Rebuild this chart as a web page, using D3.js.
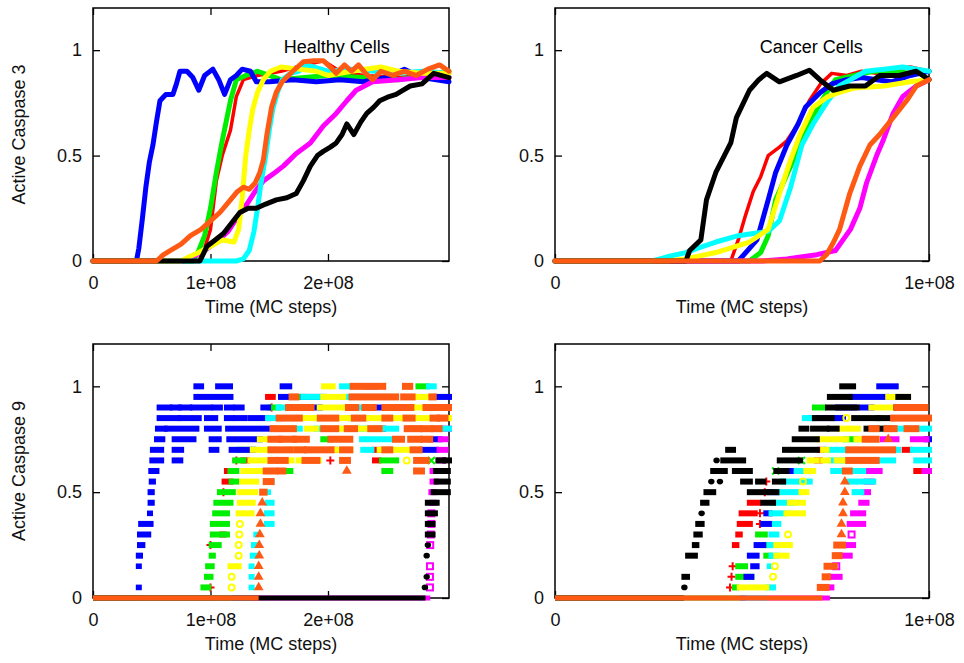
<!DOCTYPE html>
<html>
<head>
<meta charset="utf-8">
<script src="https://cdn.jsdelivr.net/npm/d3@7/dist/d3.min.js"></script>
<style>
  body { margin: 0; background: #fff; }
  svg { display: block; font-family: "Liberation Sans", Arial, Helvetica, sans-serif; }
</style>
</head>
<body>
<svg id="chart" width="964" height="663"></svg>
<script>
// Eight simulated cells per panel, drawn in this order (later ones on top).
const seriesColors  = ["#ff0000", "#00ee00", "#0000ff", "#ff00ff", "#00ffff", "#ffff00", "#000000", "#ff5a14"];
const seriesMarkers = ["plus", "cross", "star", "openSquare", "square", "openCircle", "dot", "triangle"];

// Axis ticks (time in units of 1e8 MC steps)
const yTickValues = [0, 0.5, 1];
const yTickLabels = ["0", "0.5", "1"];
const xTicksHealthy = [0, 1, 2];
const xTicksCancer = [0, 1];
const xTickLabelsHealthy = ["0", "1e+08", "2e+08"];
const xTickLabelsCancer = ["0", "1e+08"];
const xMaxHealthy = 3.03;
const xMaxCancer = 1.0;
const yMax = 1.2;

// Active caspase 3, healthy cells: [time, level]
const healthyC3 = [
  [[0,0],[0.90,0],[0.95,0.06],[1.0,0.15],[1.05,0.38],[1.1,0.5],[1.17,0.62],[1.22,0.78],[1.28,0.86],[1.4,0.88],[1.6,0.9],[1.8,0.93],[1.96,0.95],[2.1,0.9],[2.3,0.88],[2.6,0.87],[2.8,0.88],[3.03,0.87]],
  [[0,0],[0.85,0],[0.9,0.05],[0.95,0.12],[1.0,0.25],[1.05,0.42],[1.1,0.57],[1.17,0.76],[1.22,0.86],[1.3,0.88],[1.4,0.9],[1.5,0.88],[1.6,0.86],[1.8,0.87],[2.0,0.88],[2.3,0.87],[2.6,0.86],[2.9,0.89],[3.03,0.9]],
  [[0,0],[0.37,0],[0.39,0.06],[0.42,0.2],[0.45,0.35],[0.48,0.47],[0.51,0.55],[0.54,0.66],[0.57,0.76],[0.62,0.79],[0.68,0.79],[0.71,0.84],[0.74,0.9],[0.8,0.9],[0.85,0.87],[0.9,0.81],[0.95,0.88],[1.02,0.91],[1.07,0.86],[1.12,0.79],[1.17,0.86],[1.22,0.88],[1.27,0.91],[1.34,0.9],[1.39,0.85],[1.5,0.85],[1.7,0.86],[1.9,0.85],[2.1,0.86],[2.3,0.85],[2.5,0.87],[2.65,0.91],[2.8,0.87],[3.03,0.85]],
  [[0,0],[0.77,0],[0.85,0.02],[0.95,0.05],[1.05,0.09],[1.15,0.14],[1.22,0.2],[1.31,0.27],[1.38,0.33],[1.45,0.38],[1.55,0.42],[1.62,0.45],[1.73,0.51],[1.85,0.56],[1.96,0.64],[2.07,0.7],[2.16,0.76],[2.24,0.81],[2.38,0.85],[2.6,0.86],[2.8,0.87],[3.03,0.87]],
  [[0,0],[1.22,0],[1.28,0.01],[1.33,0.05],[1.37,0.14],[1.4,0.25],[1.43,0.37],[1.47,0.5],[1.5,0.62],[1.53,0.72],[1.57,0.8],[1.61,0.86],[1.68,0.89],[1.75,0.9],[1.82,0.93],[2.0,0.9],[2.2,0.91],[2.4,0.9],[2.6,0.89],[2.8,0.9],[3.03,0.89]],
  [[0,0],[0.75,0],[0.82,0.02],[0.9,0.04],[1.0,0.07],[1.1,0.1],[1.2,0.09],[1.24,0.15],[1.27,0.3],[1.3,0.5],[1.33,0.62],[1.36,0.72],[1.4,0.8],[1.45,0.86],[1.51,0.9],[1.6,0.92],[1.75,0.91],[1.9,0.9],[2.0,0.88],[2.2,0.9],[2.45,0.92],[2.6,0.9],[2.8,0.89],[3.03,0.89]],
  [[0,0],[0.91,0],[0.97,0.07],[1.04,0.1],[1.11,0.13],[1.18,0.18],[1.25,0.23],[1.32,0.25],[1.39,0.25],[1.47,0.27],[1.56,0.29],[1.65,0.3],[1.73,0.32],[1.79,0.38],[1.85,0.45],[1.91,0.5],[1.96,0.52],[2.02,0.54],[2.07,0.56],[2.12,0.6],[2.16,0.65],[2.22,0.6],[2.28,0.66],[2.33,0.7],[2.39,0.73],[2.44,0.76],[2.52,0.78],[2.58,0.79],[2.64,0.81],[2.7,0.83],[2.8,0.84],[2.9,0.89],[3.03,0.87]],
  [[0,0],[0.54,0],[0.6,0.03],[0.66,0.05],[0.75,0.08],[0.83,0.12],[0.92,0.15],[1.0,0.19],[1.08,0.23],[1.17,0.29],[1.23,0.33],[1.28,0.35],[1.33,0.34],[1.38,0.37],[1.42,0.42],[1.45,0.48],[1.48,0.6],[1.52,0.73],[1.56,0.8],[1.61,0.85],[1.7,0.9],[1.79,0.945],[1.88,0.95],[1.96,0.95],[2.02,0.92],[2.07,0.89],[2.14,0.93],[2.2,0.9],[2.26,0.93],[2.32,0.89],[2.38,0.86],[2.45,0.9],[2.55,0.88],[2.65,0.9],[2.75,0.88],[2.85,0.91],[2.95,0.93],[3.03,0.9]]
];

// Active caspase 3, cancer cells: [time, level]
const cancerC3 = [
  [[0,0],[0.47,0],[0.49,0.1],[0.51,0.22],[0.53,0.33],[0.55,0.4],[0.57,0.5],[0.6,0.54],[0.62,0.57],[0.65,0.65],[0.68,0.76],[0.71,0.84],[0.74,0.89],[0.78,0.88],[0.82,0.9],[0.86,0.89],[0.9,0.91],[0.95,0.92],[1.0,0.9]],
  [[0,0],[0.52,0],[0.55,0.04],[0.57,0.12],[0.59,0.29],[0.63,0.45],[0.66,0.57],[0.7,0.72],[0.73,0.81],[0.75,0.86],[0.8,0.88],[0.85,0.9],[0.9,0.9],[0.95,0.89],[1.0,0.9]],
  [[0,0],[0.49,0],[0.51,0.04],[0.54,0.1],[0.57,0.29],[0.59,0.42],[0.62,0.55],[0.65,0.65],[0.67,0.73],[0.71,0.8],[0.74,0.84],[0.78,0.86],[0.82,0.87],[0.86,0.86],[0.9,0.85],[0.95,0.88],[1.0,0.9]],
  [[0,0],[0.55,0],[0.62,0.01],[0.7,0.03],[0.75,0.05],[0.79,0.15],[0.815,0.25],[0.833,0.37],[0.86,0.5],[0.877,0.57],[0.904,0.7],[0.93,0.78],[0.966,0.83],[1.0,0.86]],
  [[0,0],[0.26,0],[0.3,0.02],[0.35,0.04],[0.38,0.06],[0.43,0.09],[0.49,0.12],[0.53,0.13],[0.57,0.14],[0.6,0.19],[0.63,0.35],[0.66,0.55],[0.69,0.65],[0.73,0.76],[0.76,0.83],[0.79,0.86],[0.83,0.9],[0.88,0.91],[0.93,0.92],[1.0,0.9]],
  [[0,0],[0.3,0],[0.35,0.01],[0.43,0.04],[0.52,0.09],[0.57,0.15],[0.6,0.32],[0.63,0.48],[0.655,0.6],[0.69,0.73],[0.73,0.78],[0.76,0.8],[0.8,0.82],[0.88,0.83],[0.95,0.85],[1.0,0.86]],
  [[0,0],[0.35,0],[0.36,0.05],[0.39,0.1],[0.405,0.29],[0.43,0.42],[0.47,0.56],[0.485,0.68],[0.52,0.81],[0.545,0.86],[0.566,0.89],[0.6,0.85],[0.646,0.88],[0.68,0.905],[0.708,0.86],[0.744,0.81],[0.788,0.83],[0.83,0.83],[0.868,0.88],[0.92,0.88],[0.966,0.9],[1.0,0.86]],
  [[0,0],[0.708,0],[0.726,0.03],[0.745,0.09],[0.761,0.15],[0.788,0.32],[0.815,0.45],[0.842,0.55],[0.868,0.6],[0.904,0.68],[0.94,0.76],[0.966,0.83],[1.0,0.86]]
];

// Active caspase 9, healthy cells: runs at one level [timeStart, timeEnd, level]
const healthyC9 = [
  // red
  [[0,1.0,0],[1.0,1.0,0.05],[1.0,1.0,0.25],[1.1,1.11,0.3],[1.11,1.11,0.5],[1.12,1.17,0.55],[1.14,1.18,0.6],[1.22,1.22,0.65],[1.28,1.31,0.65],[2.02,2.02,0.65],[2.4,2.43,0.65],[2.03,2.06,0.7],[2.4,2.44,0.7],[1.49,1.53,0.95],[1.52,1.52,0.9],[2.70,2.77,0.8]],
  // green
  [[0,0.94,0],[0.94,0.98,0.05],[0.97,1.0,0.1],[0.98,1.01,0.15],[1.01,1.02,0.2],[1.01,1.07,0.25],[1.02,1.14,0.3],[1.02,1.14,0.35],[1.04,1.14,0.4],[1.05,1.17,0.45],[1.08,1.19,0.5],[1.18,1.22,0.55],[1.17,1.22,0.6],[1.65,1.68,0.6],[2.48,2.53,0.6],[1.21,1.28,0.65],[2.46,2.58,0.65],[2.88,2.88,0.65],[1.24,1.36,0.7],[1.96,2.02,0.75],[1.51,1.58,0.9],[1.73,1.79,0.95],[2.77,2.84,1.0]],
  // blue
  [[0,0.39,0],[0.39,0.39,0.05],[0.39,0.39,0.15],[0.39,0.40,0.2],[0.40,0.42,0.25],[0.40,0.47,0.3],[0.41,0.49,0.35],[0.485,0.485,0.4],[0.49,0.50,0.45],[0.49,0.50,0.5],[0.50,0.51,0.55],[0.496,0.54,0.6],[0.505,0.58,0.65],[0.695,0.743,0.65],[0.51,0.58,0.7],[0.695,0.75,0.7],[1.01,1.05,0.7],[1.18,1.36,0.7],[2.81,2.92,0.7],[0.545,0.59,0.75],[0.695,0.855,0.75],[1.01,1.07,0.75],[1.16,1.42,0.75],[2.87,2.95,0.75],[0.553,0.61,0.8],[0.63,0.88,0.8],[0.97,1.07,0.8],[1.15,1.53,0.8],[2.44,2.47,0.8],[0.567,0.723,0.85],[0.743,0.9,0.85],[0.97,1.04,0.85],[1.14,1.18,0.85],[1.22,1.29,0.85],[1.34,1.49,0.85],[2.19,2.33,0.85],[0.567,0.652,0.9],[0.68,0.73,0.9],[0.75,0.82,0.9],[0.85,0.995,0.9],[1.035,1.08,0.9],[1.14,1.18,0.9],[1.22,1.265,0.9],[1.45,1.49,0.9],[1.86,1.93,0.9],[2.39,2.58,0.9],[0.88,0.995,0.95],[1.04,1.17,0.95],[1.6,1.65,0.95],[1.79,1.96,0.95],[2.92,3.03,0.95],[0.88,0.92,1.0],[1.065,1.166,1.0],[1.614,1.67,1.0],[2.33,2.4,1.0]],
  // magenta
  [[0,2.87,0],[2.868,2.868,0.05],[2.868,2.868,0.1],[2.868,2.868,0.15],[2.87,2.87,0.25],[2.875,2.875,0.3],[2.88,2.88,0.35],[2.88,2.88,0.4],[2.89,2.90,0.45],[2.88,2.90,0.5],[2.89,2.92,0.55],[2.89,3.0,0.6],[2.95,2.98,0.65],[2.95,3.0,0.7],[2.96,3.0,0.75],[2.97,3.03,0.8]],
  // cyan
  [[0,1.35,0],[1.35,1.35,0.05],[1.35,1.35,0.1],[1.35,1.35,0.15],[1.36,1.38,0.2],[1.37,1.38,0.25],[1.39,1.39,0.3],[1.48,1.52,0.35],[1.48,1.52,0.4],[1.49,1.52,0.45],[1.49,1.49,0.5],[1.50,1.52,0.55],[1.51,1.51,0.6],[2.3,2.37,0.7],[2.29,2.53,0.75],[1.71,1.76,0.8],[1.9,1.96,0.8],[2.24,2.44,0.8],[2.47,2.58,0.8],[2.98,3.03,0.8],[1.49,1.56,0.85],[1.9,1.96,0.85],[2.64,2.75,0.85],[1.58,1.68,0.9],[1.76,1.8,0.9],[2.19,2.33,0.9],[1.79,1.96,0.95],[2.13,2.24,0.95],[2.28,2.58,0.95],[2.78,2.81,0.95],[2.12,2.18,1.0],[2.86,2.9,1.0]],
  // yellow
  [[0,1.18,0],[1.18,1.18,0.05],[1.18,1.18,0.1],[1.17,1.24,0.15],[1.24,1.24,0.2],[1.24,1.24,0.25],[1.245,1.245,0.3],[1.25,1.25,0.35],[1.24,1.35,0.4],[1.25,1.36,0.45],[1.25,1.38,0.5],[1.27,1.39,0.55],[1.28,1.47,0.6],[1.34,1.46,0.65],[1.65,1.69,0.65],[1.75,1.92,0.65],[2.67,2.67,0.65],[1.36,1.53,0.7],[1.68,1.82,0.7],[2.06,2.19,0.7],[2.44,2.72,0.7],[1.42,1.51,0.75],[1.53,1.71,0.8],[1.82,1.9,0.8],[2.07,2.44,0.8],[1.76,1.9,0.85],[2.07,2.19,0.85],[2.33,2.64,0.85],[2.75,3.03,0.85],[1.93,2.19,0.9],[2.58,2.72,0.9],[2.75,2.84,0.9],[1.96,2.13,0.95],[2.75,2.78,0.95],[2.81,2.88,0.95],[1.966,2.04,1.0]],
  // black
  [[0,2.83,0],[2.825,2.825,0.05],[2.84,2.84,0.1],[2.84,2.84,0.2],[2.85,2.85,0.25],[2.85,2.89,0.3],[2.85,2.89,0.35],[2.85,2.91,0.4],[2.85,2.925,0.45],[2.90,3.02,0.5],[2.925,3.02,0.55],[2.92,3.02,0.6],[2.94,2.98,0.65],[3.0,3.03,0.65]],
  // orange
  [[0,1.41,0],[1.41,1.41,0.05],[1.41,1.41,0.1],[1.41,1.41,0.15],[1.415,1.415,0.2],[1.415,1.415,0.25],[1.42,1.42,0.3],[1.425,1.425,0.35],[1.425,1.425,0.4],[1.44,1.44,0.45],[1.44,1.46,0.5],[1.47,1.52,0.55],[1.47,1.55,0.6],[1.59,1.62,0.6],[2.16,2.16,0.6],[2.75,2.8,0.6],[1.51,1.55,0.65],[1.59,1.64,0.65],[1.8,1.91,0.65],[2.12,2.17,0.65],[2.75,2.84,0.65],[1.51,1.68,0.7],[1.73,1.79,0.7],[1.82,2.03,0.7],[2.12,2.19,0.7],[2.48,2.53,0.7],[2.72,2.78,0.7],[1.51,1.59,0.75],[1.6,1.71,0.75],[1.72,1.82,0.75],[2.02,2.19,0.75],[2.57,2.63,0.75],[2.7,2.78,0.75],[2.81,2.87,0.75],[1.53,1.71,0.8],[1.96,2.07,0.8],[2.16,2.23,0.8],[2.36,2.44,0.8],[2.67,2.78,0.8],[2.81,2.87,0.8],[2.9,2.95,0.8],[1.58,1.76,0.85],[1.93,2.07,0.85],[2.22,2.3,0.85],[2.48,2.53,0.85],[2.66,2.72,0.85],[2.89,2.93,0.85],[2.95,3.0,0.85],[1.66,1.76,0.9],[1.8,1.86,0.9],[2.17,2.24,0.9],[2.31,2.39,0.9],[2.48,2.58,0.9],[2.6,2.71,0.9],[2.83,2.9,0.9],[2.92,3.03,0.9],[1.69,1.73,0.95],[2.2,2.58,0.95],[2.64,2.72,0.95],[2.88,2.9,0.95],[2.21,2.47,1.0],[2.655,2.7,1.0]]
];

// Active caspase 9, cancer cells: runs at one level [timeStart, timeEnd, level]
const cancerC9 = [
  // red
  [[0,0.468,0],[0.468,0.468,0.05],[0.472,0.472,0.1],[0.475,0.475,0.15],[0.481,0.485,0.25],[0.49,0.494,0.3],[0.494,0.521,0.35],[0.548,0.548,0.35],[0.499,0.534,0.4],[0.548,0.548,0.4],[0.521,0.543,0.45],[0.561,0.561,0.5],[0.565,0.565,0.55],[0.7,0.708,0.65],[0.708,0.717,0.7],[0.935,0.948,0.7],[0.966,0.975,0.6]],
  // green
  [[0,0.48,0],[0.481,0.485,0.05],[0.49,0.525,0.1],[0.49,0.508,0.15],[0.565,0.574,0.2],[0.561,0.57,0.25],[0.543,0.561,0.3],[0.59,0.59,0.6],[0.659,0.659,0.65],[0.779,0.806,0.75],[0.744,0.753,0.85],[0.86,0.868,0.85],[0.695,0.717,0.9]],
  // blue
  [[0,0.51,0],[0.512,0.525,0.1],[0.53,0.539,0.15],[0.521,0.539,0.2],[0.539,0.557,0.25],[0.557,0.574,0.35],[0.565,0.574,0.4],[0.574,0.592,0.5],[0.619,0.646,0.6],[0.993,1.0,0.75],[0.686,0.77,0.85],[0.757,0.8,0.9],[0.82,0.846,0.9],[0.793,0.886,0.95],[0.867,0.911,1.0]],
  // magenta
  [[0,0.735,0],[0.726,0.739,0.05],[0.735,0.761,0.1],[0.752,0.752,0.15],[0.761,0.788,0.2],[0.779,0.797,0.25],[0.793,0.793,0.3],[0.788,0.824,0.35],[0.797,0.824,0.4],[0.819,0.833,0.45],[0.828,0.837,0.5],[0.833,0.846,0.55],[0.828,0.868,0.6],[0.988,1.0,0.6],[0.877,0.913,0.75],[0.957,0.993,0.75]],
  // cyan
  [[0,0.57,0],[0.57,0.583,0.05],[0.574,0.574,0.15],[0.579,0.592,0.2],[0.574,0.592,0.25],[0.579,0.592,0.3],[0.588,0.597,0.35],[0.579,0.61,0.4],[0.583,0.635,0.45],[0.592,0.65,0.5],[0.801,0.819,0.5],[0.61,0.681,0.55],[0.788,0.851,0.55],[0.646,0.668,0.6],[0.744,0.779,0.6],[0.788,0.824,0.6],[0.74,0.779,0.65],[0.86,0.904,0.65],[0.966,1.0,0.65],[0.726,0.779,0.7],[0.904,0.917,0.7],[0.957,1.0,0.7],[0.868,0.886,0.8],[0.913,0.94,0.8],[0.966,1.0,0.8],[0.668,0.69,0.85]],
  // yellow
  [[0,0.494,0],[0.494,0.565,0.05],[0.583,0.583,0.1],[0.588,0.588,0.15],[0.592,0.619,0.2],[0.592,0.628,0.25],[0.623,0.623,0.3],[0.619,0.663,0.4],[0.628,0.663,0.45],[0.659,0.672,0.5],[0.663,0.663,0.55],[0.672,0.69,0.6],[0.681,0.7,0.65],[0.717,0.73,0.65],[0.753,0.77,0.65],[0.717,0.726,0.7],[0.7,0.779,0.75],[0.806,0.828,0.75],[0.761,0.81,0.8],[0.779,0.779,0.85],[0.846,0.904,0.9],[0.891,0.944,0.95]],
  // black
  [[0,0.345,0],[0.346,0.346,0.05],[0.346,0.353,0.1],[0.356,0.374,0.2],[0.374,0.378,0.25],[0.378,0.387,0.3],[0.383,0.392,0.35],[0.392,0.392,0.4],[0.396,0.405,0.45],[0.557,0.583,0.45],[0.405,0.423,0.5],[0.521,0.592,0.5],[0.418,0.418,0.55],[0.441,0.441,0.55],[0.503,0.521,0.55],[0.543,0.557,0.55],[0.588,0.61,0.55],[0.423,0.454,0.6],[0.481,0.521,0.6],[0.592,0.619,0.6],[0.432,0.432,0.65],[0.45,0.503,0.65],[0.601,0.655,0.65],[0.463,0.476,0.7],[0.615,0.623,0.7],[0.637,0.7,0.7],[0.641,0.7,0.75],[0.659,0.672,0.8],[0.69,0.726,0.8],[0.735,0.753,0.8],[0.833,0.86,0.8],[0.87,0.9,0.8],[0.695,0.74,0.85],[0.8,0.86,0.85],[0.868,0.904,0.85],[0.73,0.806,0.9],[0.913,0.948,0.9],[0.735,0.788,0.95],[0.918,0.944,0.95],[0.768,0.797,1.0]],
  // orange
  [[0,0.715,0],[0.708,0.726,0.05],[0.721,0.73,0.1],[0.726,0.748,0.15],[0.748,0.761,0.2],[0.752,0.77,0.25],[0.766,0.766,0.3],[0.766,0.766,0.35],[0.77,0.77,0.4],[0.77,0.77,0.45],[0.775,0.775,0.5],[0.775,0.775,0.55],[0.775,0.788,0.6],[0.784,0.86,0.65],[0.784,0.904,0.7],[0.828,0.86,0.75],[0.891,0.891,0.75],[0.846,0.86,0.8],[0.886,0.908,0.8],[0.94,0.966,0.8],[0.904,1.0,0.85],[0.913,0.948,0.9],[0.953,0.966,0.9],[0.975,0.99,0.9]]
];

const svg = d3.select("#chart");
const FONT = 18;

const panels = [
  { box: [93, 449, 8, 261],   xMax: xMaxHealthy, xTicks: xTicksHealthy, xLabels: xTickLabelsHealthy, kind: "line", data: healthyC3, title: "Healthy Cells", yTitle: "Active Caspase 3" },
  { box: [555, 929, 8, 261],  xMax: xMaxCancer,  xTicks: xTicksCancer,  xLabels: xTickLabelsCancer,  kind: "line", data: cancerC3,  title: "Cancer Cells" },
  { box: [93, 449, 344, 598], xMax: xMaxHealthy, xTicks: xTicksHealthy, xLabels: xTickLabelsHealthy, kind: "runs", data: healthyC9, yTitle: "Active Caspase 9" },
  { box: [555, 929, 344, 598],xMax: xMaxCancer,  xTicks: xTicksCancer,  xLabels: xTickLabelsCancer,  kind: "runs", data: cancerC9 }
];

function drawMarker(g, cx, cy, kind, color) {
  switch (kind) {
    case "plus":
      g.append("path").attr("d", `M${cx-4},${cy}H${cx+4}M${cx},${cy-4}V${cy+4}`)
        .attr("stroke", color).attr("stroke-width", 2).attr("fill", "none");
      break;
    case "cross":
      g.append("path").attr("d", `M${cx-3.5},${cy-3.5}L${cx+3.5},${cy+3.5}M${cx+3.5},${cy-3.5}L${cx-3.5},${cy+3.5}`)
        .attr("stroke", color).attr("stroke-width", 2.2).attr("fill", "none");
      break;
    case "openSquare":
      g.append("rect").attr("x", cx-3).attr("y", cy-3).attr("width", 6).attr("height", 6)
        .attr("fill", "none").attr("stroke", color).attr("stroke-width", 2);
      break;
    case "openCircle":
      g.append("circle").attr("cx", cx).attr("cy", cy).attr("r", 3)
        .attr("fill", "none").attr("stroke", color).attr("stroke-width", 2);
      break;
    case "dot":
      g.append("ellipse").attr("cx", cx).attr("cy", cy).attr("rx", 3.2).attr("ry", 2.8).attr("fill", color);
      break;
    case "triangle":
      g.append("path").attr("d", d3.symbol(d3.symbolTriangle, 42)())
        .attr("transform", `translate(${cx},${cy})`).attr("fill", color);
      break;
    default:
      g.append("rect").attr("x", cx-3).attr("y", cy-2.8).attr("width", 6).attr("height", 5.6).attr("fill", color);
  }
}

panels.forEach(p => {
  const [x0, x1, y0, y1] = p.box;
  const x = d3.scaleLinear().domain([0, p.xMax]).range([x0, x1]);
  const y = d3.scaleLinear().domain([0, yMax]).range([y1, y0]);
  const g = svg.append("g");

  // frame
  g.append("rect").attr("x", x0).attr("y", y0).attr("width", x1 - x0).attr("height", y1 - y0)
    .attr("fill", "none").attr("stroke", "#000").attr("stroke-width", 1.5);

  // ticks: labelled left/bottom, mirrored right/top (all pointing inward)
  const left = d3.axisLeft(y).tickValues(yTickValues).tickSize(-7).tickPadding(11)
    .tickFormat((d, i) => yTickLabels[i]);
  const right = d3.axisRight(y).tickValues(yTickValues).tickSize(-7).tickFormat("");
  const bottom = d3.axisBottom(x).tickValues(p.xTicks).tickSize(-7).tickPadding(15)
    .tickFormat((d, i) => p.xLabels[i]);
  const top = d3.axisTop(x).tickValues(p.xTicks).tickSize(-7).tickFormat("");

  [[left, `translate(${x0},0)`], [right, `translate(${x1},0)`], [bottom, `translate(0,${y1})`], [top, `translate(0,${y0})`]]
    .forEach(([ax, tr]) => {
      const a = g.append("g").attr("transform", tr).call(ax);
      a.select(".domain").remove();
      a.selectAll("line").attr("stroke", "#000").attr("stroke-width", 1.3);
      a.selectAll("text").attr("font-size", FONT).attr("fill", "#111")
        .attr("font-family", "'Liberation Sans', Arial, Helvetica, sans-serif");
    });

  // axis titles
  g.append("text").attr("x", (x0 + x1) / 2).attr("y", y1 + 52).attr("text-anchor", "middle")
    .attr("font-size", FONT).attr("fill", "#111").text("Time (MC steps)");
  if (p.yTitle) {
    g.append("text").attr("transform", `translate(25,${(y0 + y1) / 2}) rotate(-90)`)
      .attr("text-anchor", "middle").attr("font-size", FONT).attr("fill", "#111").text(p.yTitle);
  }
  if (p.title) {
    g.append("text").attr("x", x0 + (x1 - x0) * 0.685).attr("y", y0 + 45).attr("text-anchor", "middle")
      .attr("font-size", FONT).attr("fill", "#000").text(p.title);
  }

  // data
  const marks = g.append("g");
  if (p.kind === "line") {
    const line = d3.line().x(d => x(d[0])).y(d => y(d[1]));
    p.data.forEach((s, i) => {
      marks.append("path").attr("d", line(s)).attr("fill", "none")
        .attr("stroke", seriesColors[i]).attr("stroke-width", i === 0 ? 3.5 : 5)
        .attr("stroke-linejoin", "round").attr("stroke-linecap", "round");
    });
  } else {
    p.data.forEach((s, i) => {
      const c = seriesColors[i];
      const sg = marks.append("g");
      s.forEach(([t0, t1, v]) => {
        if (v === 0) {
          sg.append("line").attr("x1", x(t0)).attr("x2", x(t1)).attr("y1", y(0)).attr("y2", y(0))
            .attr("stroke", c).attr("stroke-width", 5);
        } else if (t0 === t1) {
          drawMarker(sg, x(t0), y(v), seriesMarkers[i], c);
        } else {
          const h = seriesMarkers[i] === "triangle" ? 7 : 6;
          sg.append("rect").attr("x", x(t0) - 3).attr("y", y(v) - h / 2)
            .attr("width", x(t1) - x(t0) + 6).attr("height", h).attr("fill", c);
        }
      });
    });
  }
});
</script>
</body>
</html>
